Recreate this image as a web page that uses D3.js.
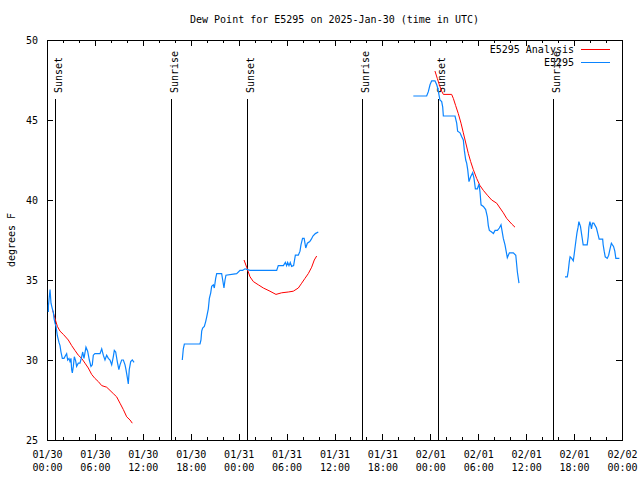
<!DOCTYPE html>
<html>
<head>
<meta charset="utf-8">
<script src="https://cdn.jsdelivr.net/npm/d3@7/dist/d3.min.js"></script>
<style>
  html, body { margin: 0; padding: 0; background: #fff; }
  svg { display: block; }
  text { font-family: "DejaVu Sans Mono", "Liberation Mono", monospace; font-size: 10px; fill: #000; }
</style>
</head>
<body>
<svg id="chart" width="640" height="480"></svg>
<script>
// ---- data (hours since 2025-01-30 00:00 UTC) ----
const titleText = "Dew Point for E5295 on 2025-Jan-30 (time in UTC)";
const yLabelText = "degrees F";
const seriesNames = ["E5295 Analysis", "E5295"];
const yTicks = [25, 30, 35, 40, 45, 50];

// observed dew point, null breaks the line
const obsHours = [
  0.17, 0.18, 0.38, 0.5, 0.67, 0.79, 0.88, 1.0, 1.13, 1.3, 1.5, 1.63, 1.75, 1.92, 2.13, 2.34, 2.46, 2.59, 2.75, 2.88,
  3.0, 3.09, 3.17, 3.3, 3.42, 3.59, 3.71, 3.92, 4.13, 4.34, 4.47, 4.63, 4.88, 5.09, 5.3, 5.51, 5.67, 5.8, 6.0, 6.64,
  6.85, 7.05, 7.26, 7.47, 7.68, 7.89, 8.1, 8.3, 8.43, 8.6, 8.8, 9.0, 9.14, 9.35, 9.56, 9.77, 9.89, 10.06, 10.18, 10.3,
  10.48, 10.68, 10.9,
  13.0,
  16.94, 17.07, 17.2, 19.16, 19.28, 19.37, 19.49, 19.7, 19.87, 20.0, 20.2, 20.33, 20.5, 20.62, 20.83, 20.95, 21.12, 21.25,
  21.87, 22.0, 22.16, 22.29, 22.41, 23.75, 24.17, 24.5, 24.79, 25.42, 26.67, 27.5, 28.76, 28.96, 29.6, 29.85, 30.0, 30.13,
  30.3, 30.46, 30.63, 30.88, 31.1, 31.47, 31.68, 31.8, 32.0, 32.2, 32.4, 32.6, 32.9, 33.1, 33.3, 33.6, 33.97,
  40.0,
  45.87, 47.54, 47.75, 47.96, 48.17, 48.58, 48.8, 48.92, 49.13, 49.2, 49.42, 49.55, 49.63, 51.09, 51.3, 51.42, 51.72, 51.93,
  52.13, 52.26, 52.43, 52.55, 52.68, 52.84, 53.05, 53.3, 53.47, 53.64, 53.89, 54.1, 54.22, 54.35, 54.64, 54.93, 55.14, 55.26,
  55.39, 55.68, 55.9, 56.1, 56.4, 56.64, 56.85, 56.97, 57.14, 57.35, 57.64, 57.9, 58.39, 58.7, 58.9, 59.1,
  62.0,
  64.86, 65.15, 65.28, 65.4, 65.5, 65.7, 65.9, 66.0, 66.1, 66.24, 66.36, 66.5, 66.6, 66.8, 66.93, 67.05, 67.14, 67.64,
  67.77, 67.85, 67.98, 68.1, 68.18, 68.3, 68.47, 68.64, 68.8, 68.97, 69.14, 69.58, 69.64, 69.77, 69.9, 70.15, 70.33, 70.5,
  70.67, 70.8, 70.94, 71.1, 71.23, 71.67
];
const obsDew = [
  33.0, 33.4, 34.4, 33.55, 33.2, 33.0, 32.6, 32.3, 32.1, 31.5, 31.1, 30.9, 30.5, 30.1, 30.1, 30.3, 30.4, 30.0, 30.1, 29.9,
  30.1, 29.4, 29.2, 29.6, 30.2, 29.95, 29.6, 29.8, 29.8, 30.2, 30.5, 30.1, 30.8, 30.55, 30.0, 29.6, 29.7, 30.3, 30.4, 30.4,
  30.7, 30.3, 30.0, 30.3, 30.1, 30.0, 29.7, 30.2, 30.6, 30.5, 29.9, 29.4, 29.7, 30.0, 30.0, 29.7, 29.4, 28.9, 28.5, 29.4,
  29.9, 30.0, 29.85,
  null,
  30.0, 30.7, 31.0, 31.0, 31.25, 31.8, 32.0, 32.1, 32.4, 32.7, 33.2, 33.85, 34.2, 34.6, 34.7, 34.5, 35.1, 35.4,
  35.4, 35.0, 34.5, 35.0, 35.3, 35.4, 35.6, 35.6, 35.7, 35.6, 35.6, 35.6, 35.6, 35.9, 35.9, 36.1, 35.9, 36.1,
  35.9, 36.1, 35.85, 35.9, 36.55, 36.55, 36.8, 37.2, 37.6, 37.6, 37.0, 37.3, 37.4, 37.55, 37.75, 37.9, 38.0,
  null,
  46.5, 46.5, 46.77, 47.2, 47.45, 47.45, 47.2, 47.0, 46.45, 46.25, 46.15, 45.8, 45.25, 45.25, 44.8, 44.3, 44.2, 43.95,
  43.75, 43.1, 42.5, 42.3, 41.9, 41.15, 41.45, 41.7, 41.35, 40.7, 40.7, 41.0, 40.5, 39.7, 39.6, 39.4, 38.95, 38.4,
  38.1, 38.0, 37.9, 38.1, 38.1, 38.25, 38.45, 38.1, 37.6, 37.2, 36.4, 36.7, 36.7, 36.55, 35.5, 34.8,
  null,
  35.2, 35.2, 35.6, 36.15, 36.45, 36.35, 36.2, 36.55, 36.95, 37.5, 37.95, 38.3, 38.65, 38.35, 37.9, 37.5, 37.2, 37.2,
  37.7, 38.3, 38.65, 38.4, 38.2, 38.55, 38.55, 38.4, 38.25, 37.9, 37.55, 37.55, 37.2, 36.8, 36.45, 36.35, 36.55, 36.95,
  37.3, 37.2, 37.1, 36.8, 36.35, 36.35
];

// analysis dew point, null breaks the line
const anaHours = [
  0.71, 1.0, 1.3, 1.63, 2.05, 2.67, 3.09, 3.5, 3.92, 4.34, 4.76, 5.17, 5.59, 6.0, 6.43, 6.85, 7.47, 7.89, 8.3, 8.72,
  9.14, 9.56, 9.98, 10.4, 10.68,
  18.0,
  24.67, 25.0, 25.42, 25.84, 26.46, 27.09, 27.92, 28.67, 29.38, 30.21, 30.84, 31.47, 31.89, 32.3, 32.72, 33.14, 33.47, 33.77,
  40.0,
  48.58, 48.87, 49.13, 49.42, 49.63, 50.67, 50.88, 51.17, 51.5, 51.84, 52.13, 52.47, 52.76, 53.05, 53.38, 53.8, 54.22, 54.64,
  55.14, 55.68, 56.31, 56.72, 57.14, 57.56, 58.19, 58.6
];
const anaDew = [
  33.1, 32.6, 32.1, 31.8, 31.6, 31.25, 30.9, 30.6, 30.3, 30.1, 29.8, 29.5, 29.1, 28.85, 28.65, 28.4, 28.3, 28.1, 27.9, 27.7,
  27.3, 26.9, 26.45, 26.25, 26.05,
  null,
  36.25, 35.8, 35.2, 34.9, 34.7, 34.5, 34.3, 34.1, 34.2, 34.25, 34.3, 34.5, 34.8, 35.1, 35.4, 35.8, 36.25, 36.5,
  null,
  48.06, 47.6, 47.2, 46.8, 46.6, 46.6, 46.35, 45.9, 45.4, 44.8, 44.2, 43.5, 42.9, 42.4, 41.9, 41.35, 40.9, 40.6,
  40.3, 40.0, 39.8, 39.5, 39.2, 38.85, 38.5, 38.3
];

// sunrise / sunset markers
const sunLabels = ["Sunset", "Sunrise", "Sunset", "Sunrise", "Sunset", "Sunrise"];
const sunHours = [1.0, 15.5, 25.0, 39.4, 49.0, 63.4];

// ---- drawing ----
const W = 640, H = 480;
const plot = { left: 47, right: 622, top: 40, bottom: 440 };
const t0 = Date.UTC(2025, 0, 30);
const toDate = h => new Date(t0 + h * 3600000);

const x = d3.scaleUtc().domain([toDate(0), toDate(72)]).range([plot.left, plot.right]);
const y = d3.scaleLinear().domain([25, 50]).range([plot.bottom, plot.top]);

const svg = d3.select("#chart");
svg.append("rect").attr("width", W).attr("height", H).attr("fill", "#fff");

// title
svg.append("text").attr("x", (plot.left + plot.right) / 2).attr("y", 23)
  .attr("text-anchor", "middle").text(titleText);

// y label
svg.append("text").attr("transform", `translate(15,${(plot.top + plot.bottom) / 2}) rotate(-90)`)
  .attr("text-anchor", "middle").text(yLabelText);

const majorTicks = d3.utcHour.every(6).range(toDate(0), toDate(72.01));
const minorTicks = d3.utcHour.every(2).range(toDate(0), toDate(72.01));
const fmtDay = d3.utcFormat("%m/%d"), fmtTime = d3.utcFormat("%H:%M");

// bottom axis: minor ticks
svg.append("g").attr("transform", `translate(0,${plot.bottom})`)
  .call(d3.axisBottom(x).tickValues(minorTicks).tickSize(-3).tickFormat(""))
  .call(g => g.select(".domain").remove());
// bottom axis: major ticks + labels
const bx = svg.append("g").attr("transform", `translate(0,${plot.bottom})`)
  .call(d3.axisBottom(x).tickValues(majorTicks).tickSize(-6).tickPadding(0).tickFormat(""));
bx.select(".domain").remove();
bx.selectAll(".tick").append("text")
  .attr("text-anchor", "middle").attr("fill", "#000")
  .each(function(d) {
    const t = d3.select(this);
    t.append("tspan").attr("x", 0).attr("y", 18).text(fmtDay(d));
    t.append("tspan").attr("x", 0).attr("y", 31).text(fmtTime(d));
  });

// top mirror ticks
svg.append("g").attr("transform", `translate(0,${plot.top})`)
  .call(d3.axisTop(x).tickValues(minorTicks).tickSize(-3).tickFormat(""))
  .call(g => g.select(".domain").remove());
svg.append("g").attr("transform", `translate(0,${plot.top})`)
  .call(d3.axisTop(x).tickValues(majorTicks).tickSize(-6).tickFormat(""))
  .call(g => g.select(".domain").remove());

// left axis
const ly = svg.append("g").attr("transform", `translate(${plot.left},0)`)
  .call(d3.axisLeft(y).tickValues(yTicks).tickSize(-6).tickPadding(9).tickFormat(d3.format("d")));
ly.select(".domain").remove();
ly.selectAll("text").attr("font-size", "10px").attr("font-family", "DejaVu Sans Mono, monospace").attr("dy", "0.35em");
// right mirror
svg.append("g").attr("transform", `translate(${plot.right},0)`)
  .call(d3.axisRight(y).tickValues(yTicks).tickSize(-6).tickFormat(""))
  .call(g => g.select(".domain").remove());

svg.selectAll(".tick line").attr("stroke", "#000").attr("shape-rendering", "crispEdges");
svg.selectAll(".tick text").attr("font-size", null).attr("font-family", null);

// border
svg.append("rect").attr("x", plot.left + 0.5).attr("y", plot.top + 0.5)
  .attr("width", plot.right - plot.left).attr("height", plot.bottom - plot.top)
  .attr("fill", "none").attr("stroke", "#000").attr("stroke-width", 1);

// sunrise/sunset lines
const sun = svg.append("g");
sunHours.forEach((h, i) => {
  const sx = Math.round(x(toDate(h))) + 0.5;
  sun.append("line").attr("x1", sx).attr("x2", sx).attr("y1", 99).attr("y2", plot.bottom)
    .attr("stroke", "#000").attr("stroke-width", 1);
  sun.append("text").attr("transform", `translate(${sx + 6.5},93) rotate(-90)`)
    .attr("text-anchor", "start").text(sunLabels[i]);
});

// series
const line = d3.line()
  .defined(d => d[1] !== null)
  .x(d => x(toDate(d[0])))
  .y(d => y(d[1]));

const obsPts = obsHours.map((h, i) => [h, obsDew[i]]);
const anaPts = anaHours.map((h, i) => [h, anaDew[i]]);
const colors = ["#ff0000", "#0a84ff"];

svg.append("path").datum(anaPts).attr("d", line)
  .attr("fill", "none").attr("stroke", colors[0]).attr("stroke-width", 1);
svg.append("path").datum(obsPts).attr("d", line)
  .attr("fill", "none").attr("stroke", colors[1]).attr("stroke-width", 1.2);

// legend
const lg = svg.append("g");
seriesNames.forEach((name, i) => {
  const ly0 = 49 + i * 13;
  lg.append("text").attr("x", 574).attr("y", ly0 + 3.5).attr("text-anchor", "end").text(name);
  lg.append("line").attr("x1", 581).attr("x2", 610).attr("y1", ly0 + 0.5).attr("y2", ly0 + 0.5)
    .attr("stroke", colors[i]).attr("stroke-width", 1);
});
</script>
</body>
</html>
